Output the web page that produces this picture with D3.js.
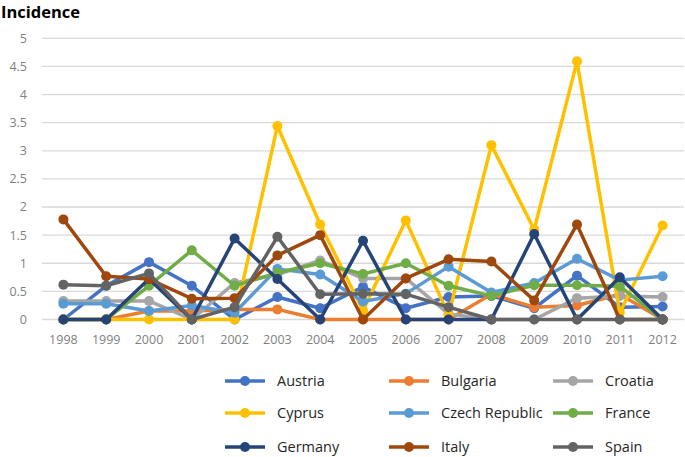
<!DOCTYPE html>
<html>
<head>
<meta charset="utf-8">
<script src="https://cdn.jsdelivr.net/npm/d3@7"></script>
<style>
  body { margin: 0; background: #fff; }
  svg { font-family: "Open Sans", "Liberation Sans", sans-serif; }
</style>
</head>
<body>
<svg width="685" height="457"></svg>
<script>
const years = ["1998", "1999", "2000", "2001", "2002", "2003", "2004", "2005",
  "2006", "2007", "2008", "2009", "2010", "2011", "2012"];
const yTicks = [0, 0.5, 1, 1.5, 2, 2.5, 3, 3.5, 4, 4.5, 5];

const countries = ["Austria", "Bulgaria", "Croatia", "Cyprus", "Czech Republic",
  "France", "Germany", "Italy", "Spain"];
const colors = ["#4472c4", "#ed7d31", "#a5a5a5", "#ffc000", "#5b9bd5",
  "#70ad47", "#264478", "#9e480e", "#636363"];

const austria = [0, 0.6, 1.02, 0.6, 0, 0.4, 0.2, 0.58, 0.2, 0.4, 0.42, 0.2, 0.78, 0.22, 0.23];
const bulgaria = [0, 0, 0.15, 0.15, 0.18, 0.18, 0, 0, 0, 0, 0.45, 0.22, 0.25, 0.45, 0];
const croatia = [0.33, 0.33, 0.33, 0, 0.65, 0.8, 1.05, 0.73, 0.73, 0.1, 0, 0, 0.38, 0.42, 0.4];
const cyprus = [0, 0, 0, 0, 0, 3.44, 1.69, 0.16, 1.76, 0.08, 3.1, 1.6, 4.59, 0.12, 1.67];
const czech = [0.28, 0.28, 0.15, 0.25, 0.12, 0.9, 0.8, 0.32, 0.46, 0.94, 0.48, 0.65, 1.08, 0.7, 0.77];
const france = [0, 0, 0.6, 1.23, 0.6, 0.83, 1.0, 0.81, 1.0, 0.6, 0.42, 0.61, 0.61, 0.59, 0];
const germany = [0, 0, 0.72, 0, 1.44, 0.72, 0, 1.4, 0, 0, 0, 1.52, 0, 0.75, 0];
const italy = [1.78, 0.77, 0.72, 0.37, 0.38, 1.14, 1.5, 0, 0.73, 1.07, 1.03, 0.34, 1.69, 0, 0];
const spain = [0.62, 0.6, 0.82, 0, 0.22, 1.47, 0.45, 0.46, 0.45, 0.22, 0, 0, 0, 0, 0];

const seriesValues = [austria, bulgaria, croatia, cyprus, czech, france, germany, italy, spain];

const svg = d3.select("svg");

const x = d3.scaleBand().domain(years).range([42, 684]);
const y = d3.scaleLinear().domain([0, 5]).range([319.5, 38.3]);

// gridlines
svg.append("g")
  .selectAll("line")
  .data(yTicks)
  .join("line")
  .attr("x1", 42)
  .attr("x2", 684)
  .attr("y1", (d) => y(d))
  .attr("y2", (d) => y(d))
  .attr("stroke", "#d9d9d9")
  .attr("stroke-width", 1.3);

// y labels
svg.append("g")
  .selectAll("text")
  .data(yTicks)
  .join("text")
  .attr("x", 27)
  .attr("y", (d) => y(d))
  .attr("dy", "0.35em")
  .attr("text-anchor", "end")
  .attr("font-size", 12.5)
  .attr("fill", "#7f7f7f")
  .text((d) => d);

// x labels
svg.append("g")
  .selectAll("text")
  .data(years)
  .join("text")
  .attr("x", (d) => x(d) + x.bandwidth() / 2)
  .attr("y", 340)
  .attr("dy", "0.35em")
  .attr("text-anchor", "middle")
  .attr("font-size", 12.5)
  .attr("fill", "#7f7f7f")
  .text((d) => d);

svg.append("text")
  .attr("x", 1)
  .attr("y", 18)
  .attr("font-size", 16.5)
  .attr("font-weight", "bold")
  .attr("fill", "#000")
  .text("Incidence");

const line = d3.line()
  .x((d, i) => x(years[i]) + x.bandwidth() / 2)
  .y((d) => y(d));

const series = svg.append("g")
  .selectAll("g")
  .data(seriesValues)
  .join("g");

series.append("path")
  .attr("d", (d) => line(d))
  .attr("fill", "none")
  .attr("stroke", (d, i) => colors[i])
  .attr("stroke-width", 3.5)
  .attr("stroke-linejoin", "round");

series.each(function (vals, i) {
  d3.select(this)
    .selectAll("circle")
    .data(vals)
    .join("circle")
    .attr("cx", (d, j) => x(years[j]) + x.bandwidth() / 2)
    .attr("cy", (d) => y(d))
    .attr("r", 5)
    .attr("fill", colors[i]);
});

// legend
const legCols = [225, 389, 553];
const legRows = [381, 413, 447];
const legend = svg.append("g")
  .selectAll("g")
  .data(countries)
  .join("g")
  .attr("transform", (d, i) => `translate(${legCols[i % 3]}, ${legRows[Math.floor(i / 3)]})`);

legend.append("line")
  .attr("x1", 0)
  .attr("x2", 40)
  .attr("stroke", (d, i) => colors[i])
  .attr("stroke-width", 3.5);

legend.append("circle")
  .attr("cx", 20)
  .attr("r", 5)
  .attr("fill", (d, i) => colors[i]);

legend.append("text")
  .attr("x", 52)
  .attr("dy", "0.35em")
  .attr("font-size", 14.5)
  .attr("fill", "#262626")
  .text((d) => d);
</script>
</body>
</html>
